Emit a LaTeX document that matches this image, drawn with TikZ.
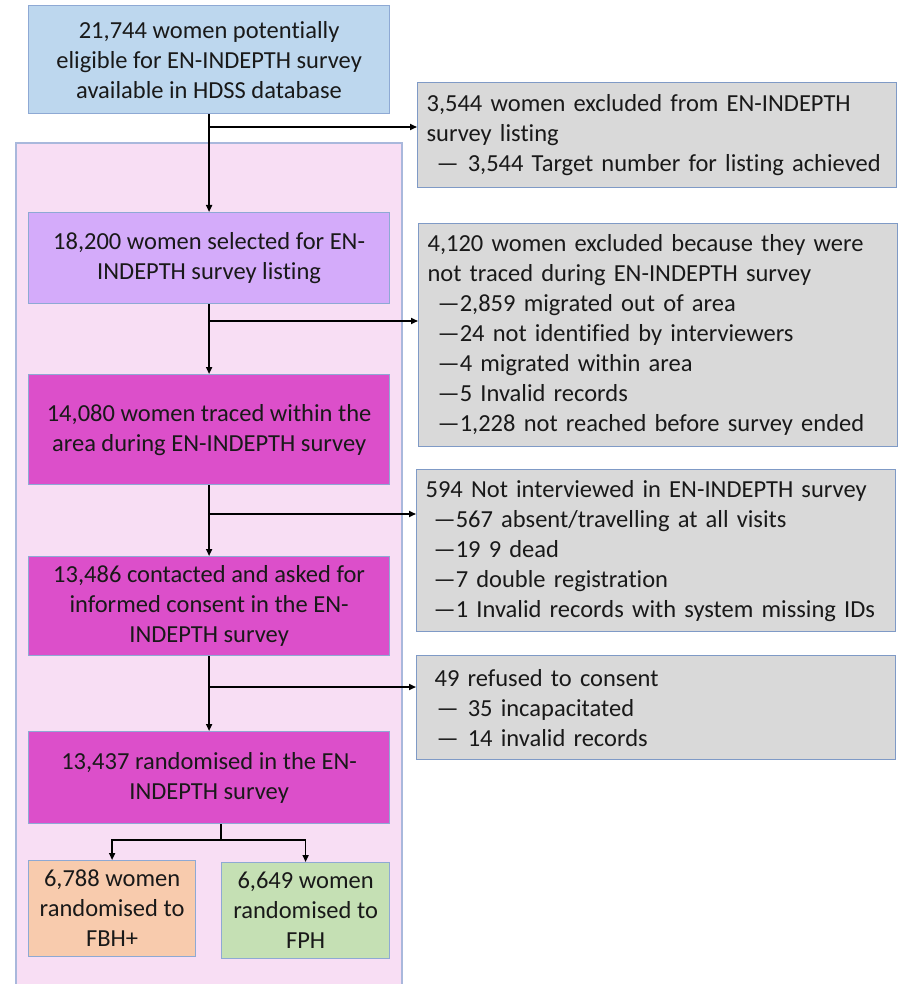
\documentclass[tikz,border=0pt]{standalone}
\usepackage{fontspec}
\setmainfont{Carlito}[Ligatures={NoCommon}]
\usetikzlibrary{arrows.meta}
\definecolor{bluefill}{HTML}{BDD7EE}
\definecolor{edgecol}{HTML}{8EA9D4}
\definecolor{pinkfill}{HTML}{F8DEF4}
\definecolor{pinkedge}{HTML}{A9B8DC}
\definecolor{purplefill}{HTML}{D4ABFA}
\definecolor{magentafill}{HTML}{DC4FCA}
\definecolor{grayfill}{HTML}{D9D9D9}
\definecolor{grayedge}{HTML}{7F9AC6}
\definecolor{orangefill}{HTML}{F8CBAD}
\definecolor{greenfill}{HTML}{C5E0B4}
\begin{document}
\begin{tikzpicture}[x=1pt,y=-1pt,
  every node/.style={font=\fontsize{24.5}{30}\selectfont, text=black!90},
  mainbox/.style={draw=edgecol, line width=1.2pt, anchor=north west, align=center, inner sep=0pt, minimum width=361pt},
  smallbox/.style={draw=edgecol, line width=1.2pt, anchor=north west, align=center, inner sep=0pt, minimum width=167pt},
  graybox/.style={draw=grayedge, fill=grayfill, line width=1.2pt, anchor=north west, align=left, inner ysep=0pt, inner xsep=9pt, text width=461pt},
  arr/.style={-{Triangle[length=7pt,width=6pt]}, line width=1.6pt, black}
]
\useasboundingbox (0,0) rectangle (897,984);
% group background
\draw[fill=pinkfill, draw=pinkedge, line width=1.2pt] (16,143) rectangle (402,995);

\node[mainbox, fill=bluefill, minimum height=108pt] (top) at (28,5)
  {21,744 women potentially\\eligible for EN-INDEPTH survey\\available in HDSS database};
\node[mainbox, fill=purplefill, minimum height=91pt] (sel) at (28,212)
  {18,200 women selected for EN-\\INDEPTH survey listing};
\node[mainbox, fill=magentafill, minimum height=110pt] (traced) at (28,374)
  {14,080 women traced within the\\area during EN-INDEPTH survey};
\node[mainbox, fill=magentafill, minimum height=99pt] (contact) at (28,556)
  {13,486 contacted and asked for\\informed consent in the EN-\\INDEPTH survey};
\node[mainbox, fill=magentafill, minimum height=92pt] (rand) at (28,731)
  {13,437 randomised in the EN-\\INDEPTH survey};
\node[smallbox, fill=orangefill, minimum height=96pt] (fbh) at (28,860)
  {6,788 women\\randomised to\\FBH+};
\node[smallbox, fill=greenfill, minimum height=96pt, minimum width=168pt] (fph) at (221,862)
  {6,649 women\\randomised to\\FPH};

\node[graybox, minimum height=105pt] (ex1) at (417,82)
  {3,544 women excluded from EN-INDEPTH\\survey listing\\\hspace*{10pt}—\hspace{9pt}3,544 Target number for listing achieved};
\node[graybox, minimum height=223pt] (ex2) at (418,223)
  {4,120 women excluded because they were\\not traced during EN-INDEPTH survey\\
  \hspace*{10pt}—2,859 migrated out of area\\
  \hspace*{10pt}—24 not identified by interviewers\\
  \hspace*{10pt}—4 migrated within area\\
  \hspace*{10pt}—5 Invalid records\\
  \hspace*{10pt}—1,228 not reached before survey ended};
\node[graybox, minimum height=162pt] (ex3) at (416,469)
  {594 Not interviewed in EN-INDEPTH survey\\
  \hspace*{8pt}—567 absent/travelling at all visits\\
  \hspace*{8pt}—19 9 dead\\
  \hspace*{8pt}—7 double registration\\
  \hspace*{8pt}—1 Invalid records with system missing IDs};
\node[graybox, minimum height=104pt] (ex4) at (416,655)
  {\hspace*{9pt}49 refused to consent\\
  \hspace*{11pt}—\hspace{9pt}35 incapacitated\\
  \hspace*{11pt}—\hspace{9pt}14 invalid records};

% main flow
\draw[arr] (top.south) -- (sel.north);
\draw[arr] (sel.south) -- (traced.north);
\draw[arr] (traced.south) -- (contact.north);
\draw[arr] (contact.south) -- (rand.north);

% exclusion branches
\coordinate (b1) at (208.5,127);
\coordinate (b2) at (208.5,321);
\coordinate (b3) at (208.5,514);
\coordinate (b4) at (208.5,687);
\draw[arr] (b1) -- (b1 -| ex1.west);
\draw[arr] (b2) -- (b2 -| ex2.west);
\draw[arr] (b3) -- (b3 -| ex3.west);
\draw[arr] (b4) -- (b4 -| ex4.west);

% randomisation split
\coordinate (split) at (221,840);
\draw[line width=1.6pt] (split |- rand.south) -- (split);
\draw[arr] (split) -| (fbh.north);
\draw[arr] (split) -| (fph.north);
\end{tikzpicture}
\end{document}
